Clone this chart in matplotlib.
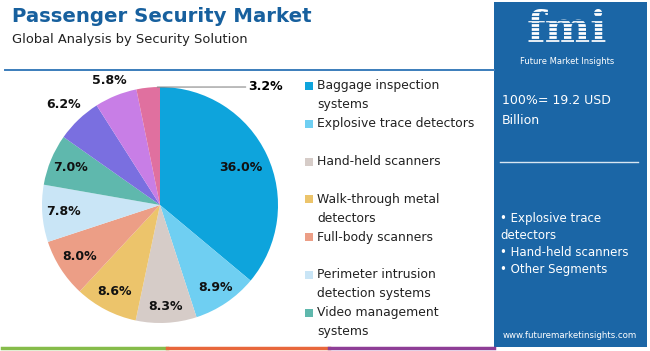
import matplotlib.pyplot as plt
from matplotlib.patches import Rectangle
from matplotlib.lines import Line2D
import numpy as np

W, H = 650, 351

segments = ['Baggage inspection\nsystems', 'Explosive trace detectors', 'Hand-held scanners',
            'Walk-through metal\ndetectors', 'Full-body scanners',
            'Perimeter intrusion\ndetection systems', 'Video management\nsystems',
            'Other 1', 'Other 2', 'Other 3']
shares = [36.0, 8.9, 8.3, 8.6, 8.0, 7.8, 7.0, 6.2, 5.8, 3.2]
colors = ['#0ea4dc', '#6fcff2', '#d6ccc8', '#ecc46b', '#ec9e86', '#c9e5f6',
          '#5fb8ad', '#7a6fe0', '#c87ee6', '#e0709f']
n_legend = 7
market_size = '100%= 19.2 USD\nBillion'
key_segments = ['Explosive trace\ndetectors', 'Hand-held scanners', 'Other Segments']

# label distance from centre (fraction of radius) for each slice
label_r = [0.76, 0.84, 0.86, 0.83, 0.81, 0.82, 0.82, 1.18, 1.14, None]


def px(x, y):
    return x / W, 1 - y / H


fig = plt.figure(figsize=(W / 100, H / 100), dpi=100)
fig.patch.set_facecolor('white')

# title block
fig.text(*px(12, 17), 'Passenger Security Market', fontsize=14.2, fontweight='bold',
         color='#17609e', va='center', ha='left')
fig.text(*px(12, 40), 'Global Analysis by Security Solution', fontsize=9.4,
         color='#222222', va='center', ha='left')
fig.add_artist(Line2D([5 / W, 494 / W], [1 - 70 / H] * 2, color='#3b7dbb', lw=1.4))

# pie
cx, cy, R = 160, 205, 118
span = 1.25
side = 2 * span * R
ax = fig.add_axes([(cx - side / 2) / W, (H - cy - side / 2) / H, side / W, side / H])
wedges, _ = ax.pie(shares, colors=colors, startangle=90, counterclock=False,
                   wedgeprops=dict(linewidth=0))
ax.set_xlim(-span, span)
ax.set_ylim(-span, span)
ax.set_aspect('equal')
ax.axis('off')

for w, val, r in zip(wedges, shares, label_r):
    mid = np.deg2rad((w.theta1 + w.theta2) / 2)
    if r is None:
        top = np.deg2rad(w.theta1 + 2)
        ax.annotate(f'{val:.1f}%', xy=(np.cos(top), np.sin(top)), xytext=(0.75, 1.0),
                    ha='left', va='center', fontsize=9, fontweight='bold',
                    arrowprops=dict(arrowstyle='-', color='#888888', lw=0.8,
                                    shrinkA=0, shrinkB=1))
        continue
    ax.text(r * np.cos(mid), r * np.sin(mid), f'{val:.1f}%', ha='center', va='center',
            fontsize=9, fontweight='bold', color='#111111')

# legend
for i in range(n_legend):
    y = 86 + i * 37.8
    fig.add_artist(Rectangle(px(305, y + 4), 8 / W, 8 / H, color=colors[i], lw=0))
    for j, t in enumerate(segments[i].split('\n')):
        fig.text(*px(317, y + j * 18.7), t, fontsize=8.9, color='#222222',
                 ha='left', va='center')

# right panel
panel = '#1b66a6'
fig.add_artist(Rectangle(px(494, 347), 153 / W, 345 / H, color=panel, lw=0))
fig.text(*px(567, 30), 'fmi', fontsize=31, fontweight='bold', family='DejaVu Serif',
         color='white', ha='center', va='center')
for yy in np.arange(12, 50, 3.8):
    fig.add_artist(Line2D([510 / W, 628 / W], [1 - yy / H] * 2, color=panel, lw=0.9,
                          zorder=5))
fig.text(*px(567, 61), 'Future Market Insights', fontsize=6, color='white',
         ha='center', va='center')
fig.text(*px(502, 111), market_size, fontsize=9, color='white', ha='left', va='center',
         linespacing=1.7)
fig.add_artist(Line2D([500 / W, 638 / W], [1 - 162 / H] * 2, color='#d8e6f2', lw=1))
by = 218
for s in key_segments:
    for j, t in enumerate(s.split('\n')):
        fig.text(*px(500, by), ('\u2022 ' if j == 0 else '') + t, fontsize=8.5,
                 color='white', ha='left', va='center')
        by += 17.3
fig.text(*px(570, 335), 'www.futuremarketinsights.com', fontsize=6.2, color='white',
         ha='center', va='center')

# bottom colour strip
for x0, x1, c in [(2, 167, '#86bc4a'), (167, 329, '#e8673c'), (329, 494, '#8e3e96')]:
    fig.add_artist(Line2D([x0 / W, x1 / W], [1 - 348 / H] * 2, color=c, lw=2.5))

fig.savefig('out.png', dpi=100)
